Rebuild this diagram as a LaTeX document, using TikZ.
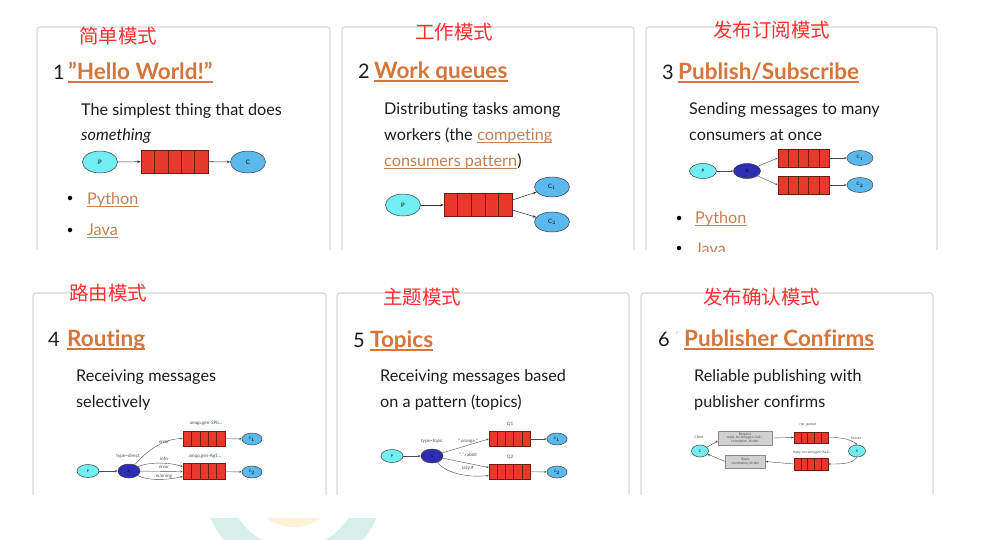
\documentclass[tikz,border=0pt]{standalone}
\usepackage{fontspec}
\setmainfont[Ligatures=NoCommon]{Lato}
\newfontfamily\cjk{Noto Sans CJK SC}
\usetikzlibrary{shapes.geometric,arrows.meta,calc}
\definecolor{cjkred}{RGB}{255,48,48}
\definecolor{hlink}{RGB}{214,117,58}
\definecolor{blink}{RGB}{200,128,80}
\definecolor{pcyan}{RGB}{112,238,242}
\definecolor{cblue}{RGB}{90,184,236}
\definecolor{xblue}{RGB}{46,46,178}
\definecolor{qred}{RGB}{232,56,42}
\definecolor{qedge}{RGB}{110,28,20}
\definecolor{panelc}{RGB}{216,216,216}
\definecolor{txt}{RGB}{28,28,28}
\definecolor{wmteal}{RGB}{214,239,233}
\definecolor{wmyellow}{RGB}{253,241,214}
\definecolor{boxgray}{RGB}{208,208,208}
\begin{document}
\begin{tikzpicture}[x=1pt,y=-1pt,
  cjklabel/.style={anchor=west, inner sep=0, text=cjkred, font=\cjk\fontsize{19.5}{20}\selectfont},
  numtxt/.style={anchor=base west, inner sep=0, text=txt, font=\fontsize{20}{24}\selectfont},
  headtxt/.style={anchor=base west, inner sep=0, text=hlink, font=\bfseries\fontsize{22.5}{26}\selectfont},
  bodytxt/.style={anchor=base west, inner sep=0, text=txt, font=\fontsize{16.2}{19}\selectfont},
  linktxt/.style={bodytxt, text=blink},
  hul/.style={draw=hlink, line width=1.3},
  bul/.style={draw=blink, line width=0.9},
  panel/.style={draw=panelc, line width=1.2, rounded corners=3},
  bulletdot/.style={circle, fill=black, inner sep=0, minimum size=4.5},
  pnode/.style 2 args={ellipse, draw=black!75, line width=0.5, fill=pcyan, minimum width=#1, minimum height=#2, inner sep=0, font=\fontsize{6}{6}\selectfont},
  cnode/.style 2 args={pnode={#1}{#2}, fill=cblue},
  xnode/.style 2 args={pnode={#1}{#2}, fill=xblue},
  queue/.style 2 args={rectangle, draw=qedge, fill=qred, line width=0.6, minimum width=#1, minimum height=#2, inner sep=0,
    path picture={\foreach \k in {1,2,3,4}{\draw[qedge,line width=0.5] ($(path picture bounding box.south west)!\k/5!(path picture bounding box.south east)$) -- ($(path picture bounding box.north west)!\k/5!(path picture bounding box.north east)$);}}},
  arr/.style={-{Stealth[length=3.5pt,width=2.6pt]}, line width=0.55, draw=black!80},
  sarr/.style={-{Stealth[length=2.5pt,width=2pt]}, line width=0.4, draw=black!70},
  tinytxt/.style={inner sep=0.3, text=black!70, font=\fontsize{4.6}{5}\selectfont},
  boxnode/.style={rectangle, draw=black!45, line width=0.4, fill=boxgray, inner sep=0, align=center, text=black!70, font=\fontsize{3.4}{3.8}\selectfont}
]
\useasboundingbox[fill=white] (0,0) rectangle (988,539);

% faint watermark
\begin{scope}
  \clip (150,518) rectangle (450,539);
  \fill[wmteal, even odd rule] (293.5,482) circle[radius=90.5pt] (293.5,482) circle[radius=65.8pt];
  \fill[wmyellow] (293.5,482) circle[radius=45pt];
\end{scope}

% panel frames
\draw[panel] (37,250) -- (37,27) -- (330,27) -- (330,250);
\draw[panel] (342,250) -- (342,27) -- (634,27) -- (634,250);
\draw[panel] (646,250) -- (646,27) -- (937,27) -- (937,250);
\draw[panel] (33,495) -- (33,293) -- (326,293) -- (326,495);
\draw[panel] (337,495) -- (337,293) -- (629,293) -- (629,495);
\draw[panel] (641,495) -- (641,293) -- (933,293) -- (933,495);

% ---------- Panel 1 ----------
\node[cjklabel] (t1) at (79,36) {简单模式};
\node[numtxt] (n1) at (53,79) {1};
\node[headtxt] (h1) at (68,79) {\char34 Hello World!\char34};
\draw[hul] ([yshift=-3pt]h1.base west) -- ([yshift=-3pt]h1.base east);
\node[bodytxt] (b11) at (81,115) {The simplest thing that does};
\node[bodytxt] (b12) at (81,140) {\itshape something};
\node[pnode={35}{22}] (p1) at (100,162) {P};
\node[queue={67}{23}] (q1) at (174.5,161.5) {};
\node[cnode={35}{22}] (c1) at (248,162) {C};
\draw[arr] (p1) -- (q1);
\draw[arr] (q1) -- (c1);
\node[bulletdot] (d11) at (70,198) {};
\node[linktxt] (l11) at (87,204) {Python};
\draw[bul] ([yshift=-2.5pt]l11.base west) -- ([yshift=-2.5pt]l11.base east);
\node[bulletdot] (d12) at (70,230) {};
\node[linktxt] (l12) at (87,235) {Java};
\draw[bul] ([yshift=-2.5pt]l12.base west) -- ([yshift=-2.5pt]l12.base east);

% ---------- Panel 2 ----------
\node[cjklabel] (t2) at (415,32) {工作模式};
\node[numtxt] (n2) at (358,78) {2};
\node[headtxt] (h2) at (374,78) {Work queues};
\draw[hul] ([yshift=-3pt]h2.base west) -- ([yshift=-3pt]h2.base east);
\node[bodytxt] (b21) at (384,114) {Distributing tasks among};
\node[bodytxt] (b22) at (384,140) {workers (the};
\node[linktxt] (l21) at ([xshift=4.3pt]b22.base east) {competing};
\draw[bul] ([yshift=-2.5pt]l21.base west) -- ([yshift=-2.5pt]l21.base east);
\node[linktxt] (l22) at (384,166) {consumers pattern};
\draw[bul] ([yshift=-2.5pt]l22.base west) -- ([yshift=-2.5pt]l22.base east);
\node[bodytxt] (b23) at (l22.base east) {)};
\node[pnode={35}{22}] (p2) at (403,205) {P};
\node[queue={68}{23}] (q2) at (478,205) {};
\node[cnode={35}{20}] (c21) at (552,187) {C$_1$};
\node[cnode={35}{20}] (c22) at (552,222) {C$_2$};
\draw[arr] (p2) -- (q2);
\draw[arr] ([yshift=5pt]q2.east) -- (c21);
\draw[arr] ([yshift=-5pt]q2.east) -- (c22);

% ---------- Panel 3 ----------
\node[cjklabel] (t3) at (713,30) {发布订阅模式};
\node[numtxt] (n3) at (662,79) {3};
\node[headtxt] (h3) at (678,79) {Publish/Subscribe};
\draw[hul] ([yshift=-3pt]h3.base west) -- ([yshift=-3pt]h3.base east);
\node[bodytxt] (b31) at (689,114) {Sending messages to many};
\node[bodytxt] (b32) at (689,140) {consumers at once};
\node[pnode={27}{15}, font=\fontsize{4.5}{5}\selectfont] (p3) at (703,171) {P};
\node[xnode={27}{15}, font=\fontsize{4.5}{5}\selectfont] (x3) at (747,171) {X};
\node[queue={51}{18}] (q31) at (803.5,158) {};
\node[queue={51}{18}] (q32) at (803.5,185) {};
\node[cnode={26}{15}, font=\fontsize{4.5}{5}\selectfont] (c31) at (860,158) {C$_1$};
\node[cnode={26}{15}, font=\fontsize{4.5}{5}\selectfont] (c32) at (860,185) {C$_2$};
\draw[sarr] (p3) -- (x3);
\draw[sarr] (x3) -- (q31.west);
\draw[sarr] (x3) -- (q32.west);
\draw[sarr] (q31) -- (c31);
\draw[sarr] (q32) -- (c32);
\node[bulletdot] (d31) at (679,218) {};
\node[linktxt] (l31) at (695,223) {Python};
\draw[bul] ([yshift=-2.5pt]l31.base west) -- ([yshift=-2.5pt]l31.base east);
\begin{scope}
  \clip (660,236) rectangle (760,251);
  \node[bulletdot] (d32) at (679,248) {};
  \node[linktxt] (l32) at (695,254) {Java};
\end{scope}

% ---------- Panel 4 ----------
\node[cjklabel] (t4) at (69,293) {路由模式};
\node[numtxt] (n4) at (48,346) {4};
\node[headtxt] (h4) at (67,346) {Routing};
\draw[hul] ([yshift=-3pt]h4.base west) -- ([yshift=-3pt]h4.base east);
\node[bodytxt] (b41) at (76,381) {Receiving messages};
\node[bodytxt] (b42) at (76,407) {selectively};
\node[pnode={22}{13}, font=\fontsize{3.5}{4}\selectfont] (p4) at (88,471) {P};
\node[xnode={22}{14}, font=\fontsize{3.5}{4}\selectfont] (x4) at (129,471) {X};
\node[queue={42}{15}] (q41) at (204,438.5) {};
\node[queue={42}{16}] (q42) at (204,471.5) {};
\node[cnode={20}{12}, font=\fontsize{3.5}{4}\selectfont] (c41) at (252,439) {C$_1$};
\node[cnode={20}{12}, font=\fontsize{3.5}{4}\selectfont] (c42) at (252,472) {C$_2$};
\draw[sarr] (p4) -- (x4);
\draw[sarr] (x4) .. controls (148,450) and (163,439) .. (q41.west);
\draw[sarr] (x4) .. controls (148,462) and (168,462) .. ([yshift=5pt]q42.west);
\draw[sarr] (x4) -- (q42.west);
\draw[sarr] (x4) .. controls (148,481) and (168,480) .. ([yshift=-5pt]q42.west);
\draw[sarr] (q41) -- (c41);
\draw[sarr] (q42) -- (c42);
\node[tinytxt] (a41) at (206,423) {amqp.gen-S9b...};
\node[tinytxt] (a42) at (205,456) {amqp.gen-Ag1...};
\node[tinytxt] (a43) at (128,456) {type=direct};
\node[tinytxt] (a44) at (164,442) {error};
\node[tinytxt] (a45) at (164,459) {info};
\node[tinytxt] (a46) at (164,467) {error};
\node[tinytxt] (a47) at (164,476) {warning};

% ---------- Panel 5 ----------
\node[cjklabel] (t5) at (383,297) {主题模式};
\node[numtxt] (n5) at (353,347) {5};
\node[headtxt] (h5) at (370,347) {Topics};
\draw[hul] ([yshift=-3pt]h5.base west) -- ([yshift=-3pt]h5.base east);
\node[bodytxt] (b51) at (380,381) {Receiving messages based};
\node[bodytxt] (b52) at (380,407) {on a pattern (topics)};
\node[pnode={22}{13}, font=\fontsize{3.5}{4}\selectfont] (p5) at (392,456) {P};
\node[xnode={22}{14}, font=\fontsize{3.5}{4}\selectfont] (x5) at (432,456) {X};
\node[queue={41}{15}] (q51) at (509.5,439) {};
\node[queue={41}{15}] (q52) at (509.5,471.5) {};
\node[cnode={20}{12}, font=\fontsize{3.5}{4}\selectfont] (c51) at (557,439) {C$_1$};
\node[cnode={20}{12}, font=\fontsize{3.5}{4}\selectfont] (c52) at (557,472) {C$_2$};
\draw[sarr] (p5) -- (x5);
\draw[sarr] (x5) -- (q51.west);
\draw[sarr] (x5) -- ([yshift=4pt]q52.west);
\draw[sarr] (x5) .. controls (445,472) and (465,478) .. ([yshift=-4pt]q52.west);
\draw[sarr] (q51) -- (c51);
\draw[sarr] (q52) -- (c52);
\node[tinytxt] (a51) at (510,424) {Q1};
\node[tinytxt] (a52) at (510,457) {Q2};
\node[tinytxt] (a53) at (432,441) {type=topic};
\node[tinytxt] (a54) at (468,441) {*.orange.*};
\node[tinytxt] (a55) at (468,455) {*.*.rabbit};
\node[tinytxt] (a56) at (468,468) {lazy.\#};

% ---------- Panel 6 ----------
\node[cjklabel] (t6) at (703,297) {发布确认模式};
\node[numtxt] (n6) at (658,346) {6};
\node[numtxt, text=black!45, font=\fontsize{9}{10}\selectfont] (n6b) at (676,338) {'};
\node[headtxt] (h6) at (684,346) {Publisher Confirms};
\draw[hul] ([yshift=-3pt]h6.base west) -- ([yshift=-3pt]h6.base east);
\node[bodytxt] (b61) at (694,381) {Reliable publishing with};
\node[bodytxt] (b62) at (694,407) {publisher confirms};
\node[pnode={17}{12}, font=\fontsize{3.5}{4}\selectfont] (cl) at (700,451) {C};
\node[pnode={17}{12}, font=\fontsize{3.5}{4}\selectfont] (sv) at (857,451) {S};
\node[tinytxt, font=\fontsize{3.6}{4}\selectfont] (cll) at (699,437) {Client};
\node[tinytxt, font=\fontsize{3.6}{4}\selectfont] (svl) at (856,438) {Server};
\node[boxnode, minimum width=54, minimum height=14] (rq) at (745,438) {Request\\reply\_to=amq.gen-Xa2...\\correlation\_id=abc};
\node[boxnode, minimum width=40, minimum height=13] (rp) at (745.5,461.5) {Reply\\correlation\_id=abc};
\node[queue={34}{11}] (rpcq) at (811,437.5) {};
\node[queue={34}{12}] (repq) at (811,464) {};
\node[tinytxt, font=\fontsize{3.6}{4}\selectfont] (rpcl) at (808,425) {rpc\_queue};
\node[tinytxt, font=\fontsize{3.6}{4}\selectfont] (repl) at (812,452) {reply\_to=amq.gen-Xa2...};
\draw[sarr] (cl) -- ([yshift=-3pt]rq.west);
\draw[sarr] (rq.east) -- (rpcq.west);
\draw[sarr] (rpcq.east) .. controls (842,437) and (852,440) .. (sv.north);
\draw[sarr] (sv.south) .. controls (852,464) and (842,464) .. (repq.east);
\draw[sarr] (repq.west) -- (rp.east);
\draw[sarr] (rp.west) -- (cl);
\end{tikzpicture}
\end{document}
